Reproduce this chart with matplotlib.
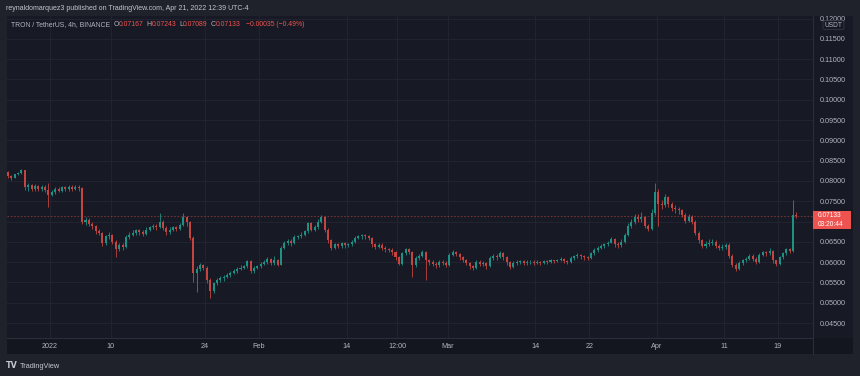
import datetime as dt

import numpy as np
import pandas as pd
import matplotlib
matplotlib.use("Agg")
import matplotlib.pyplot as plt
import matplotlib.dates as mdates
from matplotlib.patches import Rectangle, FancyBboxPatch
from matplotlib.lines import Line2D

# 12h candles for TRX/USDT, first one opens 2021-12-25 12:00 (values in 1e-4 USDT)
first_open = 822
closes = [
    812, 808, 816, 820, 826, 784, 790, 780, 788, 780,
    786, 778, 766, 772, 780, 776, 784, 780, 786, 780,
    786, 782, 700, 704, 694, 688, 676, 672, 646, 664,
    668, 650, 632, 642, 638, 662, 668, 672, 678, 674,
    670, 680, 686, 690, 686, 700, 684, 674, 680, 686,
    682, 692, 712, 698, 660, 574, 584, 592, 586, 556,
    530, 548, 556, 560, 564, 568, 574, 578, 584, 586,
    590, 602, 578, 586, 590, 596, 600, 608, 598, 606,
    594, 636, 648, 652, 646, 662, 664, 668, 676, 696,
    680, 686, 700, 712, 680, 654, 636, 644, 640, 646,
    642, 644, 650, 660, 664, 666, 664, 660, 644, 638,
    642, 636, 632, 630, 624, 612, 596, 622, 632, 626,
    592, 610, 616, 624, 604, 600, 596, 592, 600, 598,
    594, 618, 625, 620, 612, 606, 598, 590, 586, 600,
    596, 598, 590, 610, 616, 612, 622, 612, 600, 588,
    598, 600, 602, 598, 600, 601, 598, 600, 598, 602,
    600, 604, 602, 605, 607, 603, 600, 610, 614, 618,
    614, 612, 610, 622, 630, 636, 640, 644, 648, 656,
    644, 642, 650, 668, 690, 700, 712, 706, 710, 690,
    682, 720, 772, 742, 740, 760, 742, 734, 730, 728,
    716, 702, 712, 700, 672, 654, 640, 644, 648, 650,
    640, 636, 638, 642, 616, 594, 584, 598, 604, 608,
    616, 608, 600, 618, 624, 622, 628, 604, 596, 612,
    622, 632, 628, 716.7, 713.3,
]
highs = [
    825, 815, 818, 823, 830, 827, 794, 793, 792, 791,
    789, 790, 796, 778, 784, 786, 788, 788, 790, 789,
    790, 789, 785, 712, 708, 700, 692, 682, 675, 668,
    674, 670, 654, 646, 648, 666, 674, 678, 682, 682,
    678, 686, 690, 694, 694, 720, 704, 688, 686, 690,
    690, 696, 720, 714, 702, 664, 590, 598, 596, 590,
    560, 552, 562, 566, 568, 574, 578, 584, 588, 592,
    594, 606, 604, 590, 594, 600, 604, 612, 610, 614,
    608, 640, 652, 656, 656, 666, 668, 674, 680, 700,
    698, 692, 706, 717, 714, 684, 658, 648, 648, 650,
    650, 648, 654, 664, 668, 670, 670, 668, 662, 648,
    646, 646, 640, 636, 634, 628, 614, 626, 636, 636,
    628, 614, 620, 630, 628, 608, 604, 600, 604, 604,
    602, 622, 630, 628, 622, 614, 608, 600, 594, 604,
    604, 602, 600, 614, 620, 620, 627, 624, 614, 602,
    602, 604, 606, 604, 604, 604, 604, 604, 602, 606,
    604, 608, 606, 608, 612, 610, 606, 614, 618, 622,
    620, 618, 616, 626, 634, 640, 644, 648, 652, 663,
    660, 650, 656, 672, 696, 706, 718, 718, 723, 714,
    694, 730, 796, 780, 752, 768, 764, 748, 740, 736,
    732, 720, 718, 716, 704, 676, 658, 652, 656, 656,
    654, 644, 644, 648, 646, 620, 598, 602, 608, 612,
    620, 620, 612, 622, 628, 628, 634, 630, 606, 616,
    626, 636, 636, 753, 724.3,
]
lows = [
    808, 802, 806, 814, 818, 778, 776, 775, 776, 774,
    776, 772, 736, 762, 768, 772, 772, 776, 776, 776,
    778, 776, 694, 692, 688, 682, 670, 666, 640, 642,
    658, 644, 613, 628, 630, 634, 658, 664, 668, 668,
    664, 668, 676, 682, 680, 684, 678, 668, 670, 676,
    676, 678, 688, 690, 654, 552, 527, 578, 580, 548,
    512, 524, 544, 550, 554, 560, 564, 570, 574, 580,
    582, 586, 574, 574, 582, 586, 592, 596, 592, 594,
    590, 592, 632, 642, 640, 644, 656, 660, 664, 672,
    676, 676, 682, 696, 674, 648, 630, 632, 634, 636,
    636, 638, 640, 646, 656, 658, 658, 654, 638, 632,
    634, 630, 626, 624, 618, 606, 592, 594, 618, 620,
    563, 588, 604, 612, 556, 594, 590, 586, 588, 592,
    588, 590, 614, 614, 606, 600, 592, 584, 580, 584,
    590, 590, 584, 588, 606, 606, 610, 606, 594, 582,
    586, 594, 596, 594, 594, 596, 594, 596, 594, 596,
    596, 598, 598, 600, 602, 598, 596, 598, 606, 610,
    608, 606, 604, 608, 618, 626, 632, 636, 640, 646,
    638, 636, 638, 646, 664, 684, 694, 700, 700, 684,
    676, 680, 716, 690, 730, 736, 736, 726, 722, 718,
    710, 696, 698, 694, 666, 646, 634, 634, 640, 642,
    634, 630, 630, 632, 610, 588, 578, 580, 594, 600,
    604, 602, 596, 598, 614, 616, 618, 598, 590, 594,
    608, 618, 622, 626, 708.9,
]

last_price = 0.07133
price_ticks = [0.045, 0.050, 0.055, 0.060, 0.065, 0.070, 0.075, 0.080,
               0.085, 0.090, 0.095, 0.100, 0.105, 0.110, 0.115, 0.120]
time_ticks = ["2022-01-01 00:00", "2022-01-10 00:00", "2022-01-24 00:00",
              "2022-02-01 00:00", "2022-02-14 00:00", "2022-02-21 12:00",
              "2022-03-01 00:00", "2022-03-14 00:00", "2022-03-22 00:00",
              "2022-04-01 00:00", "2022-04-11 00:00", "2022-04-19 00:00"]
time_labels = ["2022", "10", "24", "Feb", "14", "12:00", "Mar", "14",
               "22", "Apr", "11", "19"]

# colours
OUTER = "#1f222b"
PANEL = "#171a24"
STRIP = "#13161e"
GRID = "#222531"
BORDER = "#2a2e39"
TEXT = "#b2b5be"
UP = "#1f9084"
DOWN = "#c4443f"
RED = "#ef5350"

W, H = 860, 376
plt.rcParams["font.family"] = ["Liberation Sans", "DejaVu Sans"]


def fx(px):
    return px / W


def fy(py):
    return 1 - py / H


c = np.array(closes) / 10000
o = np.array([first_open] + closes[:-1]) / 10000
hi = np.array(highs) / 10000
lo = np.array(lows) / 10000
t = mdates.date2num(pd.date_range("2021-12-25 12:00", periods=len(c), freq="12h")) + 0.25
up = c >= o

fig = plt.figure(figsize=(W / 100, H / 100), dpi=100, facecolor=OUTER)

# chart panel, time strip and price column backgrounds
fig.add_artist(Rectangle((fx(7), fy(354)), fx(846), 338 / H, transform=fig.transFigure,
                         facecolor=PANEL, edgecolor="none", zorder=0))
fig.add_artist(Rectangle((fx(7), fy(354)), fx(846), 16 / H, transform=fig.transFigure,
                         facecolor=STRIP, edgecolor="none", zorder=0))
fig.add_artist(Line2D([fx(813), fx(813)], [fy(354), fy(16)], transform=fig.transFigure,
                      color=BORDER, lw=0.8, zorder=1))

ax = fig.add_axes([fx(7), fy(338), fx(806), 322 / H])
ax.set_facecolor(PANEL)

jan1 = mdates.date2num(dt.datetime(2022, 1, 1))
ax.set_xlim(jan1 - 6.4, jan1 + 113.2)
ax.set_ylim(0.04131, 0.12062)

# candles
ax.vlines(t, lo, hi, colors=np.where(up, UP, DOWN), lw=0.6, zorder=3)
ax.bar(t, np.maximum(np.abs(c - o), 0.00006), bottom=np.minimum(o, c), width=0.3,
       color=np.where(up, UP, DOWN), linewidth=0, zorder=4)

# last price line
ax.axhline(last_price, color=RED, lw=0.8, ls=(0, (1.5, 1.5)), alpha=0.42, zorder=2)

ax.yaxis.tick_right()
ax.set_yticks(price_ticks)
# the 0.07000 label sits under the last-price tag, so it is left blank
ax.set_yticklabels(["" if abs(v - 0.07) < 1e-9 else f"{v:.5f}" for v in price_ticks])
ax.xaxis.set_major_locator(matplotlib.ticker.FixedLocator(
    mdates.date2num(pd.to_datetime(time_ticks, format="%Y-%m-%d %H:%M"))))
ax.xaxis.set_major_formatter(matplotlib.ticker.FixedFormatter(time_labels))
ax.tick_params(axis="both", length=0, colors=TEXT, labelsize=5.2)
ax.tick_params(axis="y", pad=5)
ax.tick_params(axis="x", pad=3.5)
ax.grid(True, color=GRID, lw=0.7, zorder=1)
for side in ["top", "left", "right"]:
    ax.spines[side].set_visible(False)
ax.spines["bottom"].set_color(BORDER)
ax.spines["bottom"].set_linewidth(0.8)

# the top price label is cut by the panel edge
fig.add_artist(Rectangle((fx(813), fy(16)), fx(47), 16 / H, transform=fig.transFigure,
                         facecolor=OUTER, edgecolor="none", zorder=10))

# USDT unit box under the top label
fig.add_artist(FancyBboxPatch((fx(823), fy(29.5)), fx(21), 8.8 / H,
                              boxstyle="round,pad=0,rounding_size=0.003",
                              transform=fig.transFigure, facecolor=PANEL,
                              edgecolor="#363a45", lw=0.6, zorder=11))
fig.text(fx(833.5), fy(25.2), "USDT", color=TEXT, fontsize=4.8, ha="center", va="center", zorder=12)

# last price label
fig.add_artist(Rectangle((fx(813), fy(229)), fx(38), 18.5 / H, transform=fig.transFigure,
                         facecolor=RED, edgecolor="none", zorder=5))
fig.text(fx(817.5), fy(215.2), "0.07133", color="white", fontsize=4.8, ha="left", va="center", zorder=6)
fig.text(fx(817.5), fy(224.6), "03:20:44", color="white", fontsize=4.8, ha="left", va="center", zorder=6)

# header
fig.text(fx(6), fy(9), "reynaldomarquez3 published on TradingView.com, Apr 21, 2022 12:39 UTC-4",
         color="#c3c6ce", fontsize=5.05, ha="left", va="center")

# legend row, pieces placed one after another
legend = [("TRON / TetherUS, 4h, BINANCE", TEXT, 3),
          ("O", TEXT, 0), ("0.07167", RED, 3),
          ("H", TEXT, 0), ("0.07243", RED, 3),
          ("L", TEXT, 0), ("0.07089", RED, 3),
          ("C", TEXT, 0), ("0.07133", RED, 5),
          ("\u22120.00035 (\u22120.49%)", RED, 0)]
renderer = fig.canvas.get_renderer()
x = 11
for s, col, gap in legend:
    txt = fig.text(fx(x), fy(25), s, color=col, fontsize=4.95, ha="left", va="center")
    x = txt.get_window_extent(renderer).x1 + gap

# footer logo
fig.text(fx(6), fy(366), "TV", color="#c3c6ce", fontsize=5.8, fontweight="bold",
         ha="left", va="center", family="DejaVu Sans")
fig.text(fx(20), fy(366), "TradingView", color="#c3c6ce", fontsize=5.3, ha="left", va="center")

fig.savefig("out.png", dpi=100, facecolor=OUTER)
